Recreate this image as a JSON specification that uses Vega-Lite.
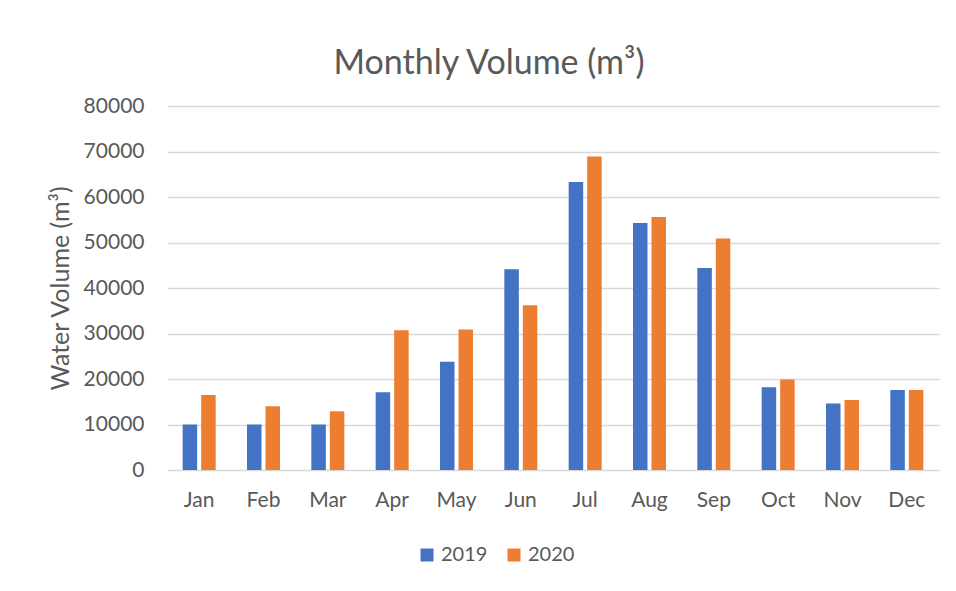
{
  "$schema": "https://vega.github.io/schema/vega-lite/v6.json",
  "width": 772,
  "height": 364,
  "autosize": {"type": "none"},
  "padding": {"left": 167, "top": 106, "right": 17, "bottom": 121},
  "background": "white",
  "title": {
    "text": "Monthly Volume (m³)",
    "anchor": "middle",
    "dx": -64,
    "dy": 46,
    "offset": 33,
    "baseline": "alphabetic",
    "font": "Lato",
    "fontSize": 34,
    "fontWeight": "normal",
    "color": "#595959"
  },
  "data": {
    "values": [
      {"month": "Jan", "year": "2019", "volume": 10000},
      {"month": "Jan", "year": "2020", "volume": 16500},
      {"month": "Feb", "year": "2019", "volume": 10000},
      {"month": "Feb", "year": "2020", "volume": 14000},
      {"month": "Mar", "year": "2019", "volume": 10000},
      {"month": "Mar", "year": "2020", "volume": 12900},
      {"month": "Apr", "year": "2019", "volume": 17100},
      {"month": "Apr", "year": "2020", "volume": 30700},
      {"month": "May", "year": "2019", "volume": 23800},
      {"month": "May", "year": "2020", "volume": 30900},
      {"month": "Jun", "year": "2019", "volume": 44100},
      {"month": "Jun", "year": "2020", "volume": 36200},
      {"month": "Jul", "year": "2019", "volume": 63300},
      {"month": "Jul", "year": "2020", "volume": 68900},
      {"month": "Aug", "year": "2019", "volume": 54300},
      {"month": "Aug", "year": "2020", "volume": 55600},
      {"month": "Sep", "year": "2019", "volume": 44400},
      {"month": "Sep", "year": "2020", "volume": 50900},
      {"month": "Oct", "year": "2019", "volume": 18200},
      {"month": "Oct", "year": "2020", "volume": 19900},
      {"month": "Nov", "year": "2019", "volume": 14600},
      {"month": "Nov", "year": "2020", "volume": 15400},
      {"month": "Dec", "year": "2019", "volume": 17600},
      {"month": "Dec", "year": "2020", "volume": 17600}
    ]
  },
  "mark": {"type": "bar"},
  "encoding": {
    "x": {
      "field": "month",
      "type": "nominal",
      "sort": null,
      "scale": {"paddingInner": 0.487, "paddingOuter": 0.2435},
      "axis": {
        "title": null,
        "labelAngle": 0,
        "ticks": false,
        "domain": false,
        "labelPadding": 19,
        "labelFont": "Lato",
        "labelFontSize": 21,
        "labelColor": "#595959"
      }
    },
    "xOffset": {
      "field": "year",
      "type": "nominal",
      "scale": {"paddingInner": 0.216, "paddingOuter": 0}
    },
    "y": {
      "field": "volume",
      "type": "quantitative",
      "scale": {"domain": [0, 80000], "nice": false},
      "axis": {
        "title": "Water Volume (m³)",
        "titleFont": "Lato",
        "titleFontSize": 25,
        "titleFontWeight": "normal",
        "titleColor": "#595959",
        "titlePadding": 10,
        "values": [0, 10000, 20000, 30000, 40000, 50000, 60000, 70000, 80000],
        "format": "d",
        "ticks": false,
        "domain": false,
        "labelPadding": 23,
        "labelFont": "Lato",
        "labelFontSize": 21,
        "labelColor": "#595959",
        "gridColor": "#d9d9d9",
        "gridWidth": 1.5
      }
    },
    "color": {
      "field": "year",
      "type": "nominal",
      "scale": {"domain": ["2019", "2020"], "range": ["#4472C4", "#ED7D31"]},
      "legend": {
        "title": null,
        "orient": "none",
        "direction": "horizontal",
        "legendX": 250,
        "legendY": 439,
        "padding": 0,
        "symbolType": "square",
        "symbolSize": 169,
        "symbolStrokeWidth": 0,
        "symbolOpacity": 1,
        "labelFont": "Lato",
        "labelFontSize": 20,
        "labelColor": "#595959",
        "labelOffset": 4,
        "columnPadding": 16
      }
    }
  },
  "config": {
    "view": {"stroke": null}
  }
}
